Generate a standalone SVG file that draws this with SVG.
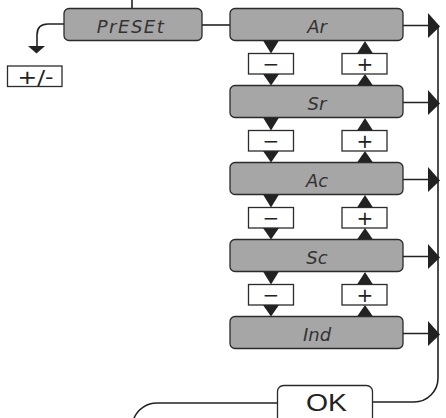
<svg xmlns="http://www.w3.org/2000/svg" width="446" height="418" viewBox="0 0 446 418">
<defs>
<style>
.disp{fill:#a6a6a6;stroke:#2b2b2b;stroke-width:1.3}
.key{fill:#fff;stroke:#2b2b2b;stroke-width:1.3}
.seg{font-family:"DejaVu Sans",sans-serif;font-style:italic;font-size:18px;fill:#333;text-anchor:middle}
.sym{font-family:"DejaVu Sans",sans-serif;font-size:20px;fill:#222;text-anchor:middle}
.line{fill:none;stroke:#222;stroke-width:1.6}
.head{fill:#222}
</style>
</defs>
<rect width="446" height="418" fill="#fff"/>
<g id="connectors">
<path class="line" d="M132,0 V8.5"/>
<path class="line" d="M202,25 H230"/>
<path class="line" d="M64,24 H48 Q37,24 37,35 V46"/>
<polygon class="head" points="28,46 45,46 36.5,53.5"/>
<path class="line" d="M403,25.5 H429 M403,102.5 H429 M403,179.5 H429 M403,256.5 H429 M403,333.5 H429"/>
<polygon class="head" points="428,13 440,26.5 428,38"/>
<polygon class="head" points="428,90 440,103.5 428,115"/>
<polygon class="head" points="428,167 440,180.5 428,192"/>
<polygon class="head" points="428,244 440,257.5 428,269"/>
<polygon class="head" points="428,321 440,334.5 428,346"/>
<path class="line" d="M438,26 V378 A24,24 0 0,1 414,402 H372.5"/>
<path class="line" d="M277.5,403 H157 A25,25 0 0,0 134,418"/>
<g class="head">
<polygon points="263,40.5 279,40.5 271,53.5"/><polygon points="263,74 279,74 271,85.5"/>
<polygon points="263,117.5 279,117.5 271,130.5"/><polygon points="263,151 279,151 271,162.5"/>
<polygon points="263,194.5 279,194.5 271,207.5"/><polygon points="263,228 279,228 271,239.5"/>
<polygon points="263,271.5 279,271.5 271,284.5"/><polygon points="263,305 279,305 271,316.5"/>
<polygon points="357,53.5 373,53.5 365,41"/><polygon points="357,85.5 373,85.5 365,74"/>
<polygon points="357,130.5 373,130.5 365,118"/><polygon points="357,162.5 373,162.5 365,151"/>
<polygon points="357,207.5 373,207.5 365,195"/><polygon points="357,239.5 373,239.5 365,228"/>
<polygon points="357,284.5 373,284.5 365,272"/><polygon points="357,316.5 373,316.5 365,305"/>
</g>
</g>
<g id="preset"><rect class="disp" x="64" y="8.5" width="138" height="32" rx="5"/><text class="seg" x="131" y="32.5" letter-spacing="1.5">PrESEt</text></g>
<g id="ar"><rect class="disp" x="230" y="8.5" width="173" height="32" rx="5"/><text class="seg" x="317" y="33">Ar</text></g>
<g id="sr"><rect class="disp" x="230" y="85.5" width="173" height="32" rx="5"/><text class="seg" x="317" y="110">Sr</text></g>
<g id="ac"><rect class="disp" x="230" y="162.5" width="173" height="32" rx="5"/><text class="seg" x="317" y="187">Ac</text></g>
<g id="sc"><rect class="disp" x="230" y="239.5" width="173" height="32" rx="5"/><text class="seg" x="317" y="264">Sc</text></g>
<g id="ind"><rect class="disp" x="230" y="316.5" width="173" height="32" rx="5"/><text class="seg" x="317" y="341">Ind</text></g>
<g id="minus1"><rect class="key" x="248.5" y="53.5" width="45" height="20.5"/><text class="sym" x="271" y="71">−</text></g>
<g id="minus2"><rect class="key" x="248.5" y="130.5" width="45" height="20.5"/><text class="sym" x="271" y="148">−</text></g>
<g id="minus3"><rect class="key" x="248.5" y="207.5" width="45" height="20.5"/><text class="sym" x="271" y="225">−</text></g>
<g id="minus4"><rect class="key" x="248.5" y="284.5" width="45" height="20.5"/><text class="sym" x="271" y="302">−</text></g>
<g id="plus1"><rect class="key" x="342" y="53.5" width="45" height="20.5"/><text class="sym" x="365" y="71">+</text></g>
<g id="plus2"><rect class="key" x="342" y="130.5" width="45" height="20.5"/><text class="sym" x="365" y="148">+</text></g>
<g id="plus3"><rect class="key" x="342" y="207.5" width="45" height="20.5"/><text class="sym" x="365" y="225">+</text></g>
<g id="plus4"><rect class="key" x="342" y="284.5" width="45" height="20.5"/><text class="sym" x="365" y="302">+</text></g>
<g id="plusminus"><rect class="key" x="7.5" y="66" width="54.5" height="20.5"/><text x="35.5" y="83.5" font-family="DejaVu Sans, sans-serif" font-size="20" fill="#222" text-anchor="middle" textLength="36" lengthAdjust="spacingAndGlyphs">+/-</text></g>
<g id="ok"><rect class="key" x="277.5" y="385.5" width="95" height="40" rx="6"/><text x="326.5" y="410.5" font-family="Liberation Sans, Arial, sans-serif" font-size="23.5" fill="#222" text-anchor="middle" textLength="41" lengthAdjust="spacingAndGlyphs">OK</text></g>
</svg>
